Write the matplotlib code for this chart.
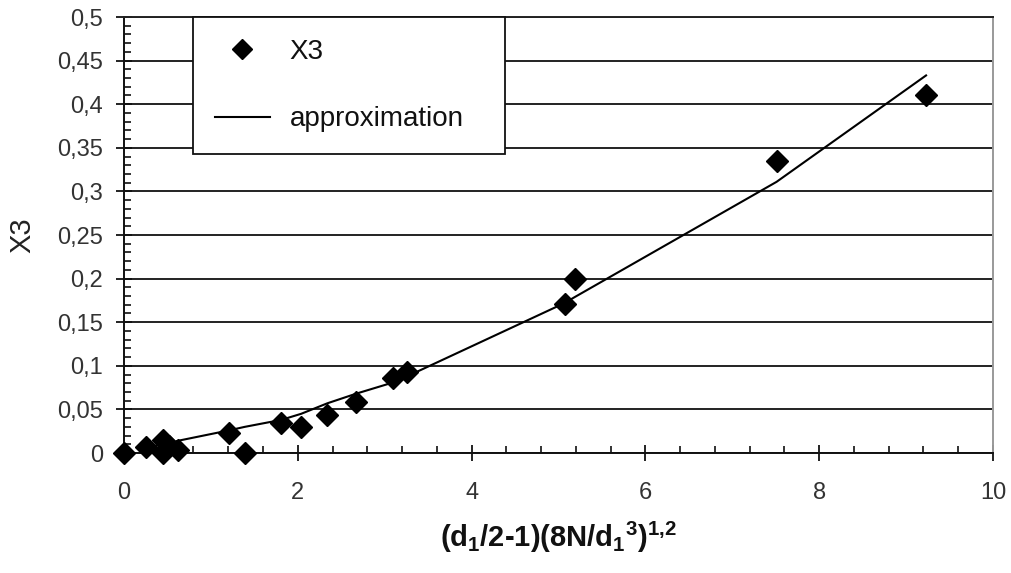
import matplotlib
matplotlib.use("Agg")
import matplotlib.pyplot as plt
from matplotlib.ticker import MultipleLocator, FuncFormatter

plt.rcParams['font.family'] = ['Liberation Sans', 'DejaVu Sans']
plt.rcParams['mathtext.fontset'] = 'custom'
plt.rcParams['mathtext.rm'] = 'Liberation Sans'
plt.rcParams['mathtext.bf'] = 'Liberation Sans:bold'
plt.rcParams['mathtext.it'] = 'Liberation Sans:italic'

# measured data (X3)
x_data = [0.0, 0.25, 0.45, 0.45, 0.52, 0.62, 1.21, 1.39, 1.81, 2.04, 2.34, 2.67, 3.10, 3.26, 5.07, 5.19, 7.51, 9.23]
y_data = [0.0, 0.007, 0.015, 0.0, 0.008, 0.004, 0.023, 0.0, 0.034, 0.030, 0.044, 0.058, 0.086, 0.093, 0.171, 0.200, 0.335, 0.411]

# approximation curve
x_fit = [0.25, 0.45, 0.62, 1.21, 1.39, 1.81, 2.04, 2.34, 2.67, 3.10, 3.26, 5.07, 5.19, 7.51, 9.23]
y_fit = [0.006, 0.010, 0.014, 0.026, 0.030, 0.038, 0.045, 0.057, 0.068, 0.081, 0.088, 0.172, 0.179, 0.311, 0.433]

x_ticks = [0, 2, 4, 6, 8, 10]
y_ticks = [0, 0.05, 0.1, 0.15, 0.2, 0.25, 0.3, 0.35, 0.4, 0.45, 0.5]

fig = plt.figure(figsize=(10.12, 5.73), dpi=100)
ax_l, ax_b, ax_w, ax_h = 0.1225, 0.2094, 0.8587, 0.7609
ax = fig.add_axes([ax_l, ax_b, ax_w, ax_h])

ax.set_xlim(0, 10)
ax.set_ylim(0, 0.5)
ax.set_xticks(x_ticks)
ax.set_yticks(y_ticks)
ax.xaxis.set_minor_locator(MultipleLocator(0.4))
ax.yaxis.set_minor_locator(MultipleLocator(0.01))

def comma_fmt(v, pos):
    s = ('%g' % round(v, 4))
    return s.replace('.', ',')

ax.xaxis.set_major_formatter(FuncFormatter(comma_fmt))
ax.yaxis.set_major_formatter(FuncFormatter(comma_fmt))

ax.yaxis.grid(True, which='major', color='#222222', linewidth=1.4)
ax.set_axisbelow(True)

ax.tick_params(axis='both', which='major', direction='inout', length=12, width=1.3,
               labelsize=17, labelcolor='#333333', color='#111111')
ax.tick_params(axis='both', which='minor', direction='in', length=5, width=1.2, color='#111111')
ax.tick_params(axis='x', which='major', pad=15)
ax.tick_params(axis='y', which='major', pad=9)

for side in ['left', 'bottom']:
    ax.spines[side].set_color('#111111')
    ax.spines[side].set_linewidth(1.4)
ax.spines['top'].set_color('#222222')
ax.spines['top'].set_linewidth(1.4)
ax.spines['right'].set_color('#999999')
ax.spines['right'].set_linewidth(1.4)

ax.plot(x_fit, y_fit, color='black', linewidth=1.5, label='approximation', zorder=3)
ax.plot(x_data, y_data, linestyle='none', marker='D', markersize=11, color='black',
        label='X3', zorder=4, clip_on=False)

# legend box: x from 193 to 505 px, y from 16 to 146 px (figure pixels)
W, H = 1012.0, 573.0
ax_px_l, ax_px_r = ax_l * W, (ax_l + ax_w) * W
ax_px_top = H - (ax_b + ax_h) * H
ax_px_h = ax_h * H
lx0 = (193 - ax_px_l) / (ax_px_r - ax_px_l)
lx1 = (505 - ax_px_l) / (ax_px_r - ax_px_l)
ly1 = 1.0
ly0 = 1.0 - (146 - ax_px_top) / ax_px_h

handles, labels = ax.get_legend_handles_labels()
leg = ax.legend(handles[::-1], labels[::-1], loc='upper left',
                bbox_to_anchor=(lx0, ly0, lx1 - lx0, ly1 - ly0), mode='expand',
                fontsize=20, frameon=True, fancybox=False, borderpad=0.78,
                labelspacing=1.5, handlelength=2.0, handletextpad=0.7, borderaxespad=0)
leg.get_frame().set_edgecolor('#111111')
leg.get_frame().set_linewidth(1.3)
leg.get_frame().set_alpha(1)
for t in leg.get_texts():
    t.set_color('#111111')
for h in leg.legend_handles:
    try:
        h.set_markersize(10)
    except Exception:
        pass

ax.set_ylabel('X3', fontsize=21, color='#222222')
ax.yaxis.set_label_coords((36 - ax_px_l) / (ax_px_r - ax_px_l), 0.5)
ax.set_xlabel(r'(d$_\mathbf{1}$/2-1)(8N/d$_\mathbf{1}$$^\mathbf{3}$)$^\mathbf{1{,}2}$',
              fontsize=21, fontweight='bold', color='#111111')
ax.xaxis.set_label_coords(0.5, (453 - 520) / ax_px_h)

fig.savefig('out.png', dpi=100)
